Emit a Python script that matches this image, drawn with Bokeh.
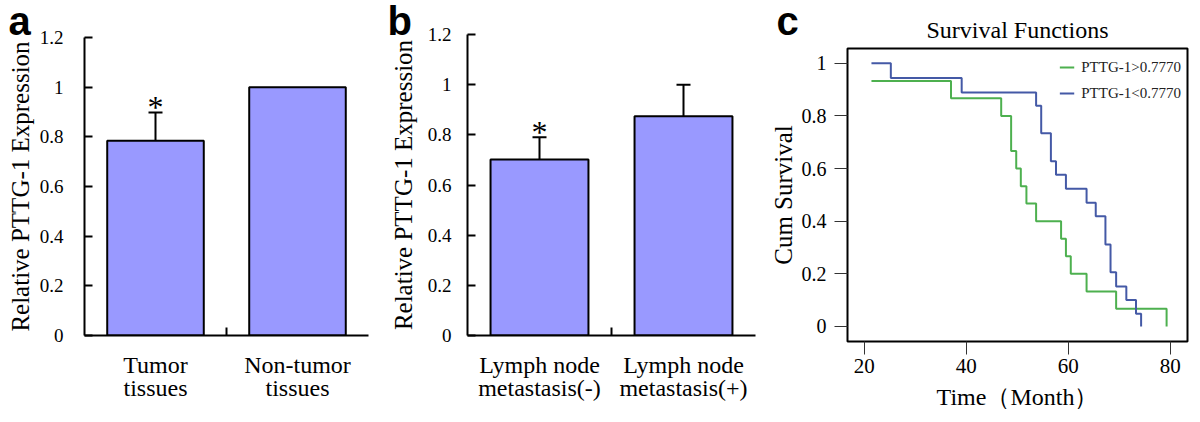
from bokeh.plotting import figure
from bokeh.models import (Range1d, FixedTicker, LinearAxis, Whisker, TeeHead,
                          ColumnDataSource, Label, Legend, LegendItem)
from bokeh.layouts import row
from bokeh.embed import file_html
from bokeh.resources import INLINE
from bokeh.core.properties import value

# ---------------- data ----------------
a_positions = [0.5, 1.5]
a_line1 = ["Tumor", "Non-tumor"]
a_line2 = ["tissues", "tissues"]
a_values = [0.784, 1.0]
a_errors = [0.114, 0.0]
a_sig = ["*", ""]

b_positions = [0.5, 1.5]
b_line1 = ["Lymph node", "Lymph node"]
b_line2 = ["metastasis(-)", "metastasis(+)"]
b_values = [0.702, 0.874]
b_errors = [0.088, 0.126]
b_sig = ["*", ""]

bar_ticks = [0, 0.2, 0.4, 0.6, 0.8, 1.0, 1.2]
bar_tick_labels = ["0", "0.2", "0.4", "0.6", "0.8", "1", "1.2"]

surv_high_time = [21.4, 37.0, 46.85, 48.8, 49.8, 50.7, 51.8, 53.7, 58.6, 59.55,
                  60.5, 63.6, 69.4, 79.3]
surv_high = [0.933, 0.867, 0.8, 0.667, 0.6, 0.533, 0.467, 0.4, 0.333, 0.267,
             0.2, 0.133, 0.067, 0.0]
surv_low_time = [21.4, 25.2, 39.1, 53.7, 54.7, 56.6, 57.6, 59.55, 63.6, 65.4,
                 67.3, 68.3, 69.4, 71.4, 73.3, 74.3]
surv_low = [1.0, 0.944, 0.889, 0.839, 0.734, 0.628, 0.576, 0.523, 0.470, 0.419,
            0.311, 0.206, 0.152, 0.101, 0.048, 0.0]
surv_ticks_y = [0, 0.2, 0.4, 0.6, 0.8, 1.0]
surv_tick_labels_y = ["0", "0.2", "0.4", "0.6", "0.8", "1"]
surv_ticks_x = [20, 40, 60, 80]

SERIF = "Liberation Serif"
SANS = "Liberation Sans"
BAR_FILL = "#9999ff"
GREEN = "#4db04f"
BLUE = "#4459a6"


def letter_label(text, x, y):
    # canvas units so it can sit outside the frame; lives in a side panel
    return Label(x=x, y=y, x_units="canvas", y_units="canvas", text=text,
                 text_font=SANS, text_font_style="bold", text_font_size="40px",
                 text_baseline="alphabetic", text_align="left",
                 text_color="black")


def bar_panel(positions, line1, line2, vals, errs, sig,
              w, h, bl, br, bt, bb, tick_standoff, label_standoff, styles):
    p = figure(width=w, height=h, x_range=Range1d(0, 2),
               y_range=Range1d(0, 1.2), output_backend="svg",
               toolbar_location=None, min_border_left=bl, min_border_right=br,
               min_border_top=bt, min_border_bottom=bb, frame_align=False,
               styles=styles)
    p.outline_line_color = None
    p.grid.visible = False
    p.background_fill_color = "white"
    p.border_fill_alpha = 0

    p.vbar(x=positions, top=vals, width=0.68, fill_color=BAR_FILL,
           line_color="black", line_width=2)

    ups = [v + e for v, e in zip(vals, errs)]
    wsrc = ColumnDataSource(dict(
        x=[x for x, e in zip(positions, errs) if e > 0],
        lower=[v for v, e in zip(vals, errs) if e > 0],
        upper=[u for u, e in zip(ups, errs) if e > 0]))
    wk = Whisker(source=wsrc, base="x", lower="lower", upper="upper",
                 dimension="height", line_width=2, line_color="black",
                 upper_head=TeeHead(size=14, line_width=2, line_color="black"),
                 lower_head=None, level="overlay")
    p.add_layout(wk)

    p.text(x=positions, y=ups, text=sig, text_font=value(SERIF),
           text_font_size="32px", text_align="center",
           text_baseline="alphabetic", y_offset=-5, text_color="black")

    ya = p.yaxis[0]
    ya.ticker = FixedTicker(ticks=bar_ticks)
    ya.major_label_overrides = dict(zip(bar_ticks, bar_tick_labels))
    ya.major_tick_in = 8
    ya.major_tick_out = 0
    ya.major_tick_line_width = 2
    ya.minor_tick_line_color = None
    ya.axis_line_width = 2
    ya.major_label_standoff = tick_standoff
    ya.major_label_text_font = SERIF
    ya.major_label_text_font_size = "19px"
    ya.major_label_text_color = "black"
    ya.axis_label = "Relative PTTG-1 Expression"
    ya.axis_label_text_font = SERIF
    ya.axis_label_text_font_size = "25px"
    ya.axis_label_text_font_style = "normal"
    ya.axis_label_text_color = "black"
    ya.axis_label_standoff = label_standoff

    xa = p.xaxis[0]
    xa.ticker = FixedTicker(ticks=[1])
    xa.major_label_overrides = {1: ""}
    xa.major_label_text_font_size = "0px"
    xa.major_label_standoff = 0
    xa.major_tick_in = 8
    xa.major_tick_out = 0
    xa.major_tick_line_width = 2
    xa.minor_tick_line_color = None
    xa.axis_line_width = 2

    for labels, standoff in ((line1, 16), (line2, -6)):
        ca = LinearAxis(ticker=FixedTicker(ticks=positions),
                        major_label_overrides=dict(zip(positions, labels)),
                        axis_line_color=None, major_tick_line_color=None,
                        minor_tick_line_color=None,
                        major_tick_in=0, major_tick_out=0,
                        major_label_standoff=standoff,
                        major_label_text_font=SERIF,
                        major_label_text_font_size="24px",
                        major_label_text_color="black")
        p.add_layout(ca, "below")
    return p


# panel a: canvas x 0..390
pa = bar_panel(a_positions, a_line1, a_line2, a_values, a_errors, a_sig,
               390, 420, 84, 22, 37, 85, 21, 3, {})
pa.add_layout(letter_label("a", 8, 20), "right")

# panel b: canvas x 386..803 (reaches under the left edge of panel c so it
# can also carry the "c" panel letter)
pb = bar_panel(b_positions, b_line1, b_line2, b_values, b_errors, b_sig,
               417, 420, 80, 48, 34, 85, 16, 8, {"margin-left": "-4px"})
pb.add_layout(letter_label("b", 1, 20), "right")
pb.add_layout(letter_label("c", 390, 20), "right")

# ---------------- survival panel: canvas x 766..1192 ----------------
pc = figure(width=426, height=420, x_range=Range1d(16.7, 83.4),
            y_range=Range1d(-0.057, 1.056), output_backend="svg",
            toolbar_location=None, min_border_left=78, min_border_right=5,
            min_border_top=48, min_border_bottom=79,
            title="Survival Functions", frame_align=False,
            styles={"margin-left": "-37px"})
pc.border_fill_alpha = 0
pc.grid.visible = False
pc.outline_line_color = "black"
pc.outline_line_width = 2
pc.title.text_font = SERIF
pc.title.text_font_size = "24px"
pc.title.text_font_style = "normal"
pc.title.text_color = "black"
pc.title.align = "center"
pc.title.standoff = 12

g = pc.step(x=surv_high_time, y=surv_high, mode="after", line_color=GREEN,
            line_width=2)
bl_ = pc.step(x=surv_low_time, y=surv_low, mode="after", line_color=BLUE,
              line_width=2)

leg = Legend(items=[LegendItem(label="PTTG-1>0.7770", renderers=[g]),
                    LegendItem(label="PTTG-1<0.7770", renderers=[bl_])],
             location="top_right", border_line_color=None,
             background_fill_alpha=0, glyph_width=15, glyph_height=26,
             label_height=26, spacing=0, padding=10, margin=6,
             label_standoff=7, label_text_font=SERIF,
             label_text_font_size="15px", label_text_color="#222222")
pc.add_layout(leg)

for ax in (pc.xaxis[0], pc.yaxis[0]):
    ax.axis_line_color = None
    ax.major_tick_out = 13
    ax.major_tick_in = 0
    ax.major_tick_line_width = 1
    ax.major_tick_line_color = "#333333"
    ax.minor_tick_line_color = None
    ax.major_label_text_font = SERIF
    ax.major_label_text_color = "black"
    ax.axis_label_text_font = SERIF
    ax.axis_label_text_font_style = "normal"
    ax.axis_label_text_color = "black"

pc.yaxis[0].ticker = FixedTicker(ticks=surv_ticks_y)
pc.yaxis[0].major_label_overrides = dict(zip(surv_ticks_y, surv_tick_labels_y))
pc.yaxis[0].major_label_text_font_size = "20px"
pc.yaxis[0].major_label_standoff = 8
pc.yaxis[0].axis_label = "Cum Survival"
pc.yaxis[0].axis_label_text_font_size = "25px"
pc.yaxis[0].axis_label_standoff = 2

pc.xaxis[0].ticker = FixedTicker(ticks=surv_ticks_x)
pc.xaxis[0].major_label_text_font_size = "21px"
pc.xaxis[0].major_label_standoff = 4
pc.xaxis[0].axis_label = "Time（Month）"
pc.xaxis[0].axis_label_text_font_size = "24px"
pc.xaxis[0].axis_label_standoff = 8

layout = row(pa, pb, pc)
open("out.html", "w").write(file_html(layout, INLINE))
